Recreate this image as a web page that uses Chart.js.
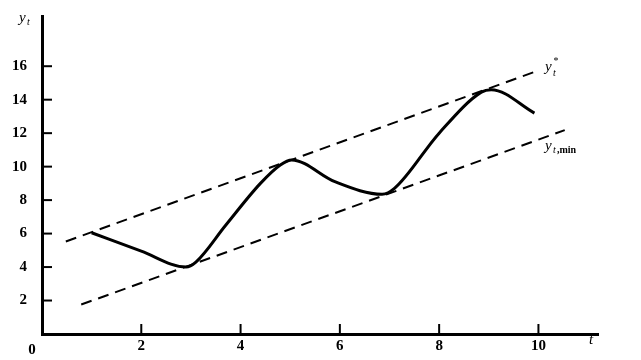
<!DOCTYPE html>
<html>
<head>
<meta charset="utf-8">
<script src="https://cdn.jsdelivr.net/npm/chart.js@4"></script>
<style>
  html, body { margin: 0; padding: 0; background: #fff; }
</style>
</head>
<body>
<canvas id="chart" width="641" height="360"></canvas>
<script>
// observed series y_t
const tValues = [1, 2, 2.9, 3.1, 3.7, 4.4, 4.8, 5.03, 5.9, 6.85, 7.1, 8.0, 8.85, 9.05, 9.92];
const yValues = [6.05, 4.95, 4.0, 4.3, 6.5, 9.0, 10.1, 10.4, 9.1, 8.35, 8.7, 12.0, 14.45, 14.6, 13.2];
// dashed bounds y*_t and y_t,min
const upperT = [0.48, 9.96];
const upperY = [5.53, 15.7];
const lowerT = [0.79, 10.53];
const lowerY = [1.76, 12.18];
const xTicks = [2, 4, 6, 8, 10];
const yTicks = [2, 4, 6, 8, 10, 12, 14, 16];

const toPoints = (xs, ys) => xs.map((x, i) => ({ x: x, y: ys[i] }));
const numFont = { family: "'Liberation Serif', 'DejaVu Serif', serif", size: 15, weight: "bold" };

// tick marks pointing into the plot plus the hand-set labels
const extras = {
  id: "extras",
  afterDraw(chart) {
    const ctx = chart.ctx;
    const xs = chart.scales.x, ys = chart.scales.y;
    const x0 = xs.getPixelForValue(0), y0 = ys.getPixelForValue(0);
    ctx.save();
    ctx.strokeStyle = "#000";
    ctx.lineWidth = 2;
    yTicks.forEach((v) => {
      const py = ys.getPixelForValue(v);
      ctx.beginPath();
      ctx.moveTo(x0, py);
      ctx.lineTo(x0 + 10, py);
      ctx.stroke();
    });
    xTicks.forEach((v) => {
      const px = xs.getPixelForValue(v);
      ctx.beginPath();
      ctx.moveTo(px, y0);
      ctx.lineTo(px, y0 - 10);
      ctx.stroke();
    });

    ctx.fillStyle = "#000";
    ctx.textBaseline = "middle";
    ctx.font = "bold 15px 'Liberation Serif', serif";
    ctx.textAlign = "center";
    ctx.fillText("0", 32, 350);

    const it = "italic 15px 'Liberation Serif', serif";
    const itSmall = "italic 10px 'Liberation Serif', serif";
    // y_t axis label
    ctx.textAlign = "left";
    ctx.font = it;
    ctx.fillText("y", 19, 18);
    ctx.font = itSmall;
    ctx.fillText("t", 27, 22);
    // t axis label
    ctx.font = it;
    ctx.fillText("t", 589, 340);
    // y*_t
    ctx.fillText("y", 545, 67);
    ctx.font = itSmall;
    ctx.fillText("*", 553, 61);
    ctx.fillText("t", 553, 73);
    // y_t,min
    ctx.font = it;
    ctx.fillText("y", 545, 146);
    ctx.font = itSmall;
    ctx.fillText("t", 553, 150);
    ctx.font = "bold 10px 'Liberation Serif', serif";
    ctx.fillText(",min", 557, 150);
    ctx.restore();
  }
};

new Chart(document.getElementById("chart").getContext("2d"), {
  type: "line",
  data: {
    datasets: [
      {
        data: toPoints(tValues, yValues),
        borderColor: "#000",
        borderWidth: 3,
        pointRadius: 0,
        cubicInterpolationMode: "monotone",
        fill: false
      },
      {
        data: toPoints(upperT, upperY),
        borderColor: "#000",
        borderWidth: 2,
        borderDash: [11, 7],
        pointRadius: 0,
        fill: false
      },
      {
        data: toPoints(lowerT, lowerY),
        borderColor: "#000",
        borderWidth: 2,
        borderDash: [11, 7],
        pointRadius: 0,
        fill: false
      }
    ]
  },
  options: {
    responsive: false,
    animation: false,
    layout: { padding: { top: 12, right: 43, left: 0, bottom: 0 } },
    plugins: { legend: { display: false }, tooltip: { enabled: false } },
    scales: {
      x: {
        type: "linear",
        min: 0,
        max: 11.2,
        grid: { display: false },
        border: { display: true, color: "#000", width: 3 },
        afterFit(scale) { scale.height = 26; },
        ticks: {
          stepSize: 2,
          autoSkip: false,
          maxRotation: 0,
          padding: -5,
          color: "#000",
          font: numFont,
          callback: (v) => (xTicks.includes(v) ? String(v) : "")
        }
      },
      y: {
        min: 0,
        max: 19,
        grid: { display: false },
        border: { display: true, color: "#000", width: 3 },
        afterFit(scale) { scale.width = 42; },
        ticks: {
          stepSize: 2,
          autoSkip: false,
          padding: 7,
          color: "#000",
          font: numFont,
          callback: (v) => (yTicks.includes(v) ? String(v) : "")
        }
      }
    }
  },
  plugins: [extras]
});
</script>
</body>
</html>
